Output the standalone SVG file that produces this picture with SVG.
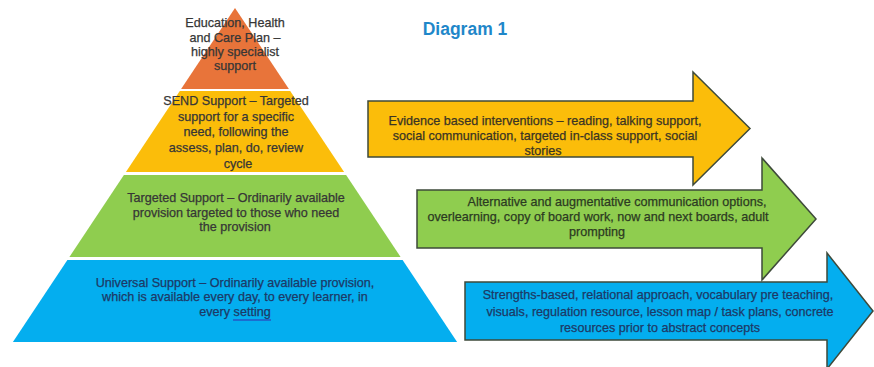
<svg xmlns="http://www.w3.org/2000/svg" width="874" height="367" viewBox="0 0 874 367">
<style>
text{font-family:"Liberation Sans",Arial,sans-serif;font-size:12.6px;text-anchor:middle;dominant-baseline:central;stroke-width:0.25}
.pt{fill:#363636;stroke:#363636}
.bt{fill:#1d3966;stroke:#1d3966}
.at{fill:#3a3424;stroke:#3a3424}
.gt{fill:#2c3a22;stroke:#2c3a22}
.arrow{stroke:#3e4a3a;stroke-width:1.5;stroke-linejoin:miter}
.title{font-size:17.5px;font-weight:bold;fill:#1f87c9;stroke:none}
</style>
<rect width="874" height="367" fill="#ffffff"/>
<g id="title"><text class="title" x="465" y="29">Diagram 1</text></g>
<g id="layer-ehcp">
<polygon points="235,8 288.9,89 181.1,89" fill="#e8743a"/>
<text class="pt" x="235" y="23">Education, Health</text>
<text class="pt" x="235" y="38">and Care Plan –</text>
<text class="pt" x="235" y="52">highly specialist</text>
<text class="pt" x="235" y="66">support</text>
</g>
<g id="layer-send">
<polygon points="179.8,91 290.2,91 344.1,172 125.9,172" fill="#fbbd0a"/>
<text class="pt" x="236" y="101">SEND Support – Targeted</text>
<text class="pt" x="236" y="117">support for a specific</text>
<text class="pt" x="236" y="132">need, following the</text>
<text class="pt" x="236" y="148">assess, plan, do, review</text>
<text class="pt" x="238" y="164">cycle</text>
</g>
<g id="layer-targeted">
<polygon points="123.9,175 346.1,175 400.6,257 69.4,257" fill="#8fcd4f"/>
<text class="pt" x="236" y="198">Targeted Support – Ordinarily available</text>
<text class="pt" x="236" y="213">provision targeted to those who need</text>
<text class="pt" x="235" y="227">the provision</text>
</g>
<g id="layer-universal">
<polygon points="67.4,260 402.6,260 457.1,342 12.9,342" fill="#04aeef"/>
<text class="bt" x="235" y="283">Universal Support – Ordinarily available provision,</text>
<text class="bt" x="235" y="297">which is available every day, to every learner, in</text>
<text class="bt" x="235" y="312">every setting</text>
<line x1="233" y1="320" x2="271" y2="320" stroke="#2456c4" stroke-width="1.3"/>
</g>
<g id="arrow-evidence">
<polygon class="arrow" points="368,101 693,101 693,72 750,128.5 693,185 693,157 368,157" fill="#fbbd0a"/>
<text class="at" x="545" y="121">Evidence based interventions – reading, talking support,</text>
<text class="at" x="545" y="136">social communication, targeted in-class support, social</text>
<text class="at" x="543" y="151">stories</text>
</g>
<g id="arrow-aac">
<polygon class="arrow" points="417,190 762,190 762,158 816,219 762,280 762,248 417,248" fill="#8fcd4f"/>
<text class="gt" x="617" y="202">Alternative and augmentative communication options,</text>
<text class="gt" x="598" y="217">overlearning, copy of board work, now and next boards, adult</text>
<text class="gt" x="597" y="232">prompting</text>
</g>
<g id="arrow-strengths">
<polygon class="arrow" points="465,282 827,282 827,253 873,311 827,369 827,340 465,340" fill="#04aeef"/>
<text class="bt" x="658" y="295">Strengths-based, relational approach, vocabulary pre teaching,</text>
<text class="bt" x="660" y="312">visuals, regulation resource, lesson map / task plans, concrete</text>
<text class="bt" x="660" y="328">resources prior to abstract concepts</text>
</g>
</svg>
